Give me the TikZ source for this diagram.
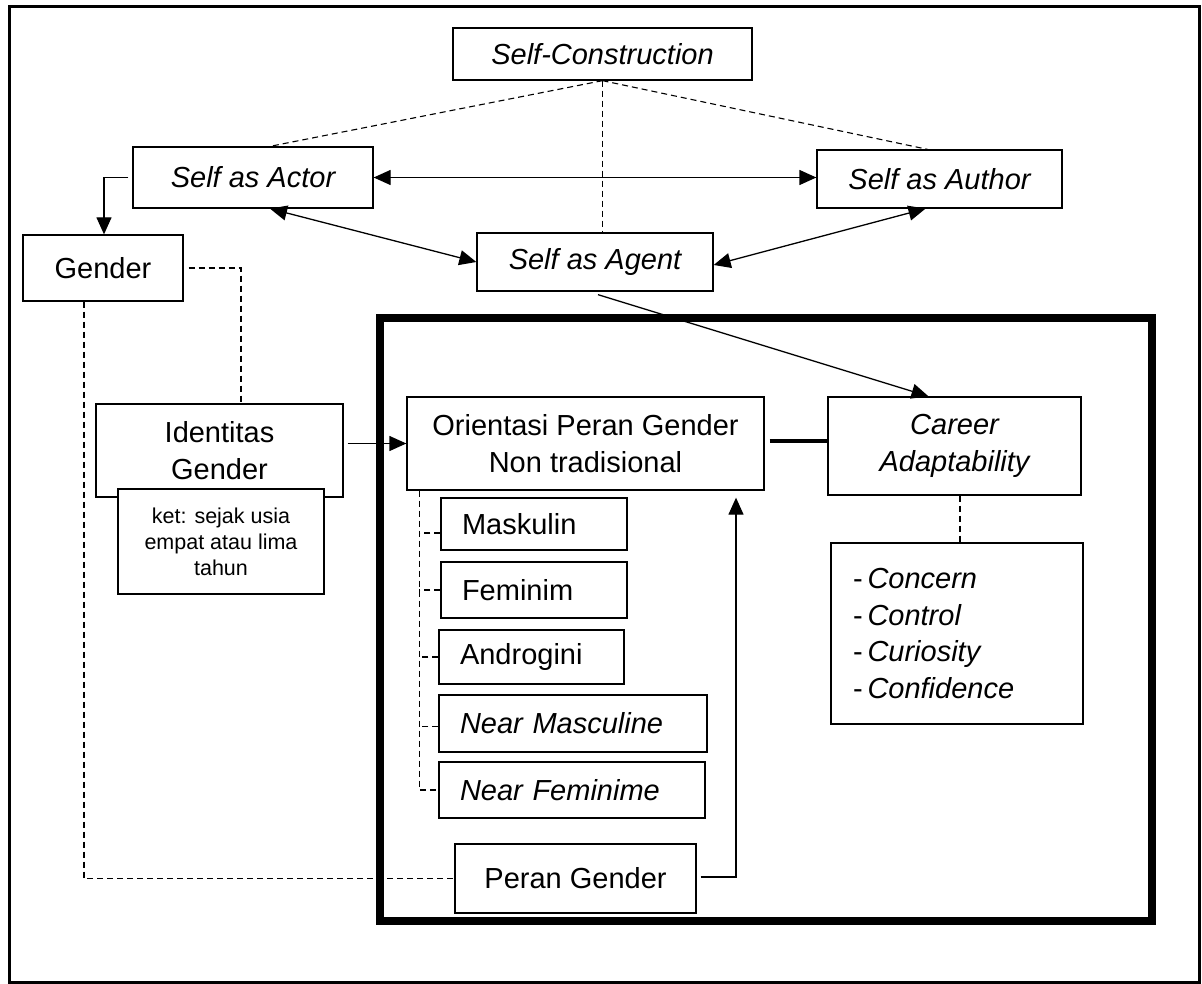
\documentclass[tikz,border=0pt]{standalone}
\usepackage{fontspec}
\setmainfont{Liberation Sans}
\usetikzlibrary{arrows.meta}
\begin{document}
\begin{tikzpicture}[x=1pt,y=-1pt,
  box/.style={draw,line width=1.3pt,fill=white,inner sep=0pt,align=center,font=\fontsize{29}{37}\selectfont},
  itbox/.style={box,font=\fontsize{29}{37}\selectfont\itshape},
  sub/.style={box,align=left,inner xsep=21pt},
  conn/.style={line width=1.3pt},
  tip/.style={Triangle[length=17pt,width=15pt]},
  arr/.style={conn,-{Triangle[length=17pt,width=15pt]}},
  darr/.style={conn,{Triangle[length=17pt,width=15pt]}-{Triangle[length=17pt,width=15pt]}},
  dsh/.style={line width=1.1pt,dash pattern=on 6pt off 4pt},
]
\useasboundingbox (0,0) rectangle (1202,984);
\draw[line width=3pt] (9,7) rectangle (1199,982);
\draw[line width=8pt] (380,318) rectangle (1152,921);

% nodes
\node[itbox,minimum width=299pt,minimum height=52pt] (sc) at (602.5,54) {Self-Construction};
\node[itbox,minimum width=240pt,minimum height=61pt] (actor) at (253,177.5) {Self as Actor};
\node[itbox,minimum width=245pt,minimum height=58pt] (author) at (939.5,179) {Self as Author};
\node[itbox,minimum width=236pt,minimum height=58pt] (agent) at (595,262) {Self as Agent};
\node[box,minimum width=160pt,minimum height=66pt] (gender) at (103,268) {Gender};
\node[box,minimum width=247pt,minimum height=93pt] (ident) at (219.5,450.5) {Identitas\\Gender};
\node[box,minimum width=206pt,minimum height=105pt,font=\fontsize{21.5}{26}\selectfont] (ket) at (221,541.5) {ket: sejak usia\\empat atau lima\\tahun};
\node[box,minimum width=357pt,minimum height=93pt] (orient) at (585.5,443.5) {Orientasi Peran Gender\\Non tradisional};
\node[itbox,minimum width=253pt,minimum height=98pt] (career) at (954.5,446) {Career\\Adaptability};
\node[box,align=left,inner xsep=22pt,text width=208pt,minimum height=181pt,font=\fontsize{29}{36.7}\selectfont] (cc) at (957,633.5)
  {-\,\textit{Concern}\\-\,\textit{Control}\\-\,\textit{Curiosity}\\-\,\textit{Confidence}};
\node[sub,text width=144pt,minimum height=52pt] (mask) at (534,524) {Maskulin};
\node[sub,text width=144pt,minimum height=56pt] (fem) at (534,590) {Feminim};
\node[sub,text width=143pt,minimum height=54pt] (andro) at (531.5,657) {Androgini};
\node[sub,text width=226pt,minimum height=57pt] (nmasc) at (573,723.5) {\itshape Near Masculine};
\node[sub,text width=224pt,minimum height=56pt] (nfem) at (572,790) {\itshape Near Feminime};
\node[box,minimum width=241pt,minimum height=69pt] (peran) at (575.5,878.5) {Peran Gender};

% connectors
\draw[dsh] (sc.south) -- ([xshift=17pt]actor.north);
\draw[dsh] (sc.south) -- ([xshift=-12pt]author.north);
\draw[dsh] (sc.south) -- (sc.south |- agent.north);
\draw[darr] (actor.east) -- (author.west |- actor.east);
\draw[darr] ([xshift=17pt]actor.south) -- (agent.west);
\draw[darr] ([xshift=-14pt]author.south) -- ([yshift=-3pt]agent.east);
\draw[arr] ([xshift=-4pt]actor.west) -| ([xshift=1pt]gender.north);
\draw[arr] ([shift={(3pt,-3pt)}]agent.south) -- ([xshift=-26pt]career.north);
\draw[dsh] ([xshift=5pt]gender.east) -| ([xshift=21.5pt]ident.north);
\draw[dsh] ([xshift=-19pt]gender.south) |- (peran.west);
\draw[arr] ([xshift=4pt,yshift=7pt]ident.east) -- (orient.west);
\draw[line width=4pt] ([xshift=5pt,yshift=2.5pt]orient.east) -- ([yshift=5pt]career.west);
\draw[dsh] ([xshift=5.5pt]career.south) -- ([xshift=3pt]cc.north);
\draw[arr] ([xshift=4pt,yshift=1.5pt]peran.east) -| ([xshift=150.5pt,yshift=-7pt]orient.south);
\coordinate (tr) at ([xshift=13pt]orient.south west);
\draw[dsh] (tr) |- (nfem.west);
\draw[dsh] ([yshift=-9pt]mask.west) -- ([yshift=-9pt]mask.west -| tr);
\draw[dsh] (fem.west) -- (fem.west -| tr);
\draw[dsh] (andro.west) -- (andro.west -| tr);
\draw[dsh] ([yshift=-3pt]nmasc.west) -- ([yshift=-3pt]nmasc.west -| tr);
\end{tikzpicture}
\end{document}
